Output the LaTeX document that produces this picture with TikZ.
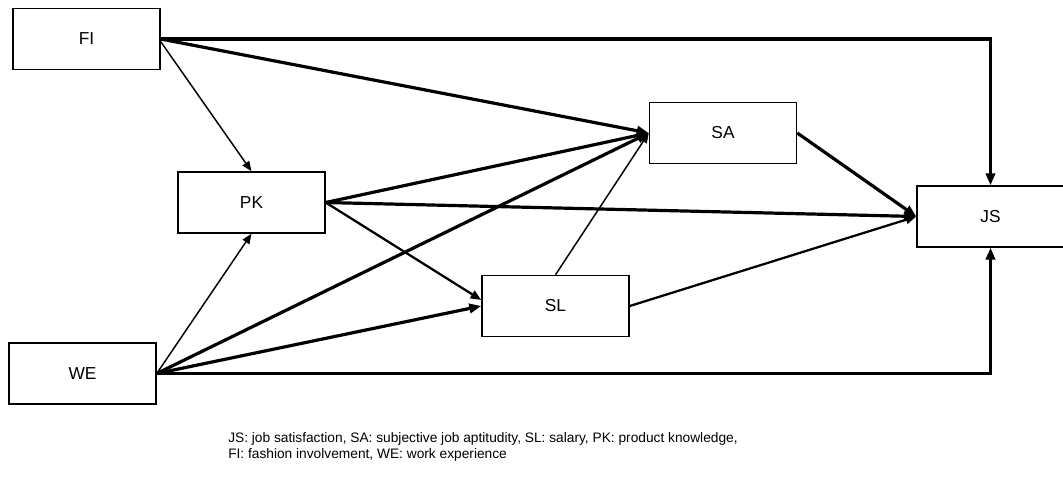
\documentclass[tikz,border=0pt]{standalone}
\usepackage{fontspec}
\setmainfont{Liberation Sans}
\usetikzlibrary{arrows.meta}
\begin{document}
\begin{tikzpicture}[x=0.75pt,y=-0.75pt,
  box/.style={draw, line width=1.1pt, minimum width=110.25pt, minimum height=45.75pt, inner sep=0pt, font=\fontsize{13}{15}\selectfont},
  heavy/.style={line width=2.4pt, -{Triangle[length=9pt,width=7pt]}},
  medium/.style={line width=1.7pt, -{Triangle[length=8pt,width=6.5pt]}},
  light/.style={line width=1.1pt, -{Triangle[length=7.5pt,width=6pt]}},
  captext/.style={anchor=base west, align=left, inner sep=0pt, font=\fontsize{10.3}{12}\selectfont}
]
\useasboundingbox (0,0) rectangle (1063,481);
\node[box] (FI) at (86.5,39) {FI};
\node[box] (PK) at (251.5,202.5) {PK};
\node[box] (WE) at (82.5,373.5) {WE};
\node[box] (SA) at (723,133) {SA};
\node[box] (SL) at (555.5,306) {SL};
\node[box] (JS) at (990.5,216.5) {JS};

\draw[heavy] (FI.east) -| (JS.north);
\draw[heavy] (FI.east) -- (SA.west);
\draw[light] ([yshift=-2pt]FI.east) -- (PK.north);
\draw[heavy] (PK.east) -- (SA.west);
\draw[heavy] (PK.east) -- (JS.west);
\draw[medium] (PK.east) -- ([yshift=4.5pt]SL.west);
\draw[light] (WE.east) -- (PK.south);
\draw[heavy] (WE.east) -- (SA.west);
\draw[heavy] (WE.east) -- (SL.west);
\draw[heavy] (WE.east) -| (JS.south);
\draw[light] (SL.north) -- (SA.west);
\draw[medium] (SL.east) -- (JS.west);
\draw[heavy] (SA.east) -- (JS.west);

\node[captext] (cap1) at (228,442) {JS: job satisfaction, SA: subjective job aptitudity, SL: salary, PK: product knowledge,};
\node[captext] (cap2) at (228,458) {FI: fashion involvement, WE: work experience};
\end{tikzpicture}
\end{document}
